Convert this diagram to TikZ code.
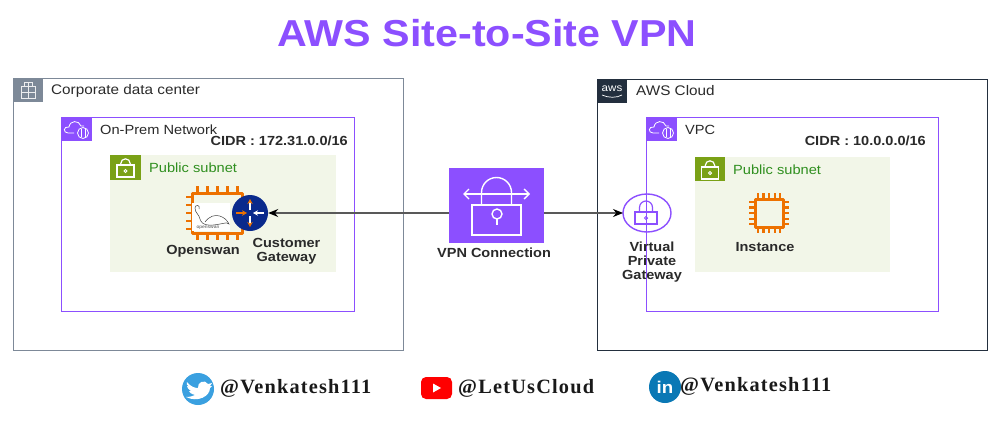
\documentclass[tikz,border=0pt]{standalone}
\usepackage{fontspec}
\setmainfont{Liberation Sans}[FakeStretch=1.1]
\newfontfamily\footfont{Liberation Serif}[LetterSpace=6]
\usetikzlibrary{arrows.meta}
\definecolor{awspurple}{HTML}{8C4FFF}
\definecolor{awsgreen}{HTML}{7AA116}
\definecolor{subnetfill}{HTML}{F2F6E8}
\definecolor{awsorange}{HTML}{ED7100}
\definecolor{awsdark}{HTML}{232F3E}
\definecolor{corpgray}{HTML}{7D8998}
\definecolor{txt}{HTML}{2A2A2A}
\definecolor{routerblue}{HTML}{0A2A8C}
\definecolor{twblue}{HTML}{3AA0E0}
\definecolor{liblue}{HTML}{0A78B5}
\definecolor{subnettxt}{HTML}{2F8F1F}
\tikzset{
  frame/.style={draw=#1,line width=1pt,fill=none},
  lab/.style={font=\fontsize{13.3}{15}\selectfont,text=txt,inner sep=0pt},
  blab/.style={font=\fontsize{13.2}{14}\selectfont\bfseries,text=txt,inner sep=0pt,align=center},
  foot/.style={font=\fontsize{20.3}{22}\selectfont\bfseries\footfont,text=black!90,inner sep=0pt,anchor=west},
  wline/.style={draw=white,line width=1.4pt,fill=none},
  link/.style={draw=black!65,line width=1.3pt},
  tip/.style={-{Stealth[length=10pt,width=8pt,black]}},
}
% lock: cx, body top, body half-width, body height, shackle half-width, shackle stem, colour
\newcommand{\lockglyph}[7]{%
  \draw[#7,line width=1.2pt] (#1-#3,#2) rectangle (#1+#3,#2+#4);
  \draw[#7,line width=1.2pt] (#1-#5,#2) -- (#1-#5,#2-#6) arc[start angle=180,end angle=360,radius=#5] -- (#1+#5,#2);
  \draw[#7,line width=.9pt] (#1,#2+#4*.5) circle (1.6);
}
\newcommand{\cloudglyph}[2]{%
  \draw[white,line width=.8pt] (#1-3,#2+3) -- (#1-9,#2+3) .. controls (#1-14,#2+3) and (#1-14,#2-4) .. (#1-8,#2-3)
    .. controls (#1-7,#2-10) and (#1+2,#2-10) .. (#1+4,#2-4) -- (#1+7,#2-4);
  \draw[white,line width=.8pt] (#1+6,#2+3) ellipse (5.5 and 5.5);
  \draw[white,line width=.6pt] (#1+4,#2-1) -- (#1+4,#2+7) (#1+8,#2-1) -- (#1+8,#2+7);
}
% chip: cx cy half-width half-height pin-length
\newcommand{\chip}[5]{%
  \draw[awsorange,line width=3pt,line join=round] (#1-#3,#2-#4) rectangle (#1+#3,#2+#4);
  \foreach \t in {-.8,-.4,0,.4,.8}{
    \draw[awsorange,line width=2.2pt] (#1+\t*#3,#2-#4) -- (#1+\t*#3,#2-#4-#5);
    \draw[awsorange,line width=2.2pt] (#1+\t*#3,#2+#4) -- (#1+\t*#3,#2+#4+#5);
    \draw[awsorange,line width=2.2pt] (#1-#3,#2+\t*#4) -- (#1-#3-#5,#2+\t*#4);
    \draw[awsorange,line width=2.2pt] (#1+#3,#2+\t*#4) -- (#1+#3+#5,#2+\t*#4);
  }
}
\begin{document}
\begin{tikzpicture}[x=1pt,y=-1pt]
\useasboundingbox[fill=white] (0,0) rectangle (1000,420);
% title
\node[font=\fontsize{37.5}{40}\selectfont\bfseries,text=awspurple,inner sep=0pt] (title) at (487,33) {AWS Site-to-Site VPN};
% left frames
\draw[frame=corpgray] (13,78) rectangle (403,350);
\fill[corpgray] (13,78) rectangle (43,102);
\draw[white!85!corpgray,line width=.7pt] (21,98) rectangle (35,86) (24,86) -- (24,82) -- (32,82) -- (32,86) (28,82) -- (28,98) (21,92) -- (35,92);
\node[lab,anchor=west,font=\fontsize{13.9}{15}\selectfont] (corp) at (51,91) {Corporate data center};
\draw[frame=awspurple] (61,117) rectangle (354,311);
\fill[awspurple] (61,117) rectangle (92,141);
\cloudglyph{77}{130}
\node[lab,anchor=west] (onprem) at (100,129.5) {On-Prem Network};
\node[blab,anchor=east] (cidrl) at (348,141) {CIDR : 172.31.0.0/16};
\fill[subnetfill] (110,155) rectangle (336,272);
\fill[awsgreen] (110,155) rectangle (141,180);
\lockglyph{125.5}{165}{8.5}{12}{4.7}{1.5}{white}
\node[lab,anchor=west,text=subnettxt] (psl) at (149,168) {Public subnet};
% openswan
\chip{217.5}{213}{25}{20}{7}
\node[fill=white,minimum width=38pt,minimum height=28pt,inner sep=0pt] (swanimg) at (211,217) {};
\draw[black!75,line width=.5pt] (199,209) .. controls (201,205) and (195,204) .. (195,208) .. controls (195,213) and (199,214) .. (200,219) .. controls (202,226) and (210,226) .. (220,224) .. controls (226,223) and (228,222) .. (229,224) .. controls (226,217) and (214,210) .. (205,222);
\node[font=\fontsize{4.5}{5}\selectfont,text=black!70,inner sep=0pt] (swantxt) at (208,227.5) {openswan};
\node[circle,fill=routerblue,minimum size=36pt,inner sep=0pt] (router) at (250,213) {};
\draw[white,line width=1.5pt,-{Stealth[length=5pt,width=5.5pt,awsorange]}] (250,210) -- (250,199);
\draw[white,line width=1.5pt,-{Stealth[length=5pt,width=5.5pt,awsorange]}] (250,216) -- (250,227);
\draw[awsorange,line width=1.5pt,-{Stealth[length=5pt,width=5.5pt]}] (236,213) -- (247,213);
\draw[white,line width=1.5pt,-{Stealth[length=5pt,width=5.5pt]}] (264,213) -- (253,213);
\node[blab] (ossl) at (203,251) {Openswan};
\node[blab] (cgw) at (286.5,251.5) {Customer\\Gateway};
% right frames
\draw[frame=awsdark] (597,79) rectangle (987,350);
\fill[awsdark] (597,79) rectangle (627,103);
\node[font=\fontsize{10.5}{11}\selectfont,text=white,inner sep=0pt] (awslogo) at (612,89) {aws};
\draw[white,line width=.7pt] (602,95) .. controls (608,98) and (617,98) .. (622,95);
\node[lab,anchor=west,font=\fontsize{13.9}{15}\selectfont] (cloud) at (636,91) {AWS Cloud};
\draw[frame=awspurple] (646,117) rectangle (938,311);
\fill[awspurple] (646,117) rectangle (677,141);
\cloudglyph{662}{130}
\node[lab,anchor=west] (vpc) at (685,130) {VPC};
\node[blab,anchor=east] (cidrr) at (926,141) {CIDR : 10.0.0.0/16};
\fill[subnetfill] (695,157) rectangle (890,272);
\fill[awsgreen] (695,157) rectangle (725,181);
\lockglyph{710}{167}{8.5}{12}{4.7}{1.5}{white}
\node[lab,anchor=west,text=subnettxt] (psr) at (733,169.5) {Public subnet};
\chip{769}{213}{14}{14}{6}
\node[blab] (inst) at (765,247) {Instance};
% VPN
\node[fill=awspurple,minimum width=95pt,minimum height=75pt,inner sep=0pt] (vpn) at (496.5,205.5) {};
\draw[wline] (472,205) rectangle (521,235);
\draw[wline] (481.5,205) -- (481.5,192.5) arc[start angle=180,end angle=360,radius=15] -- (511.5,205);
\draw[white,line width=1.4pt,{Straight Barb[length=5pt,width=10pt]}-{Straight Barb[length=5pt,width=10pt]}] (463,194) -- (530,194);
\draw[wline] (497,214) circle (5);
\draw[wline] (497,219) -- (497,225);
\node[blab] (vpnl) at (494,253) {VPN Connection};
% VGW
\draw[awspurple,line width=1.4pt] (647,213) ellipse (24 and 19);
\coordinate (vgwW) at (623,213);
\lockglyph{646}{212}{11}{12}{6.5}{4.5}{awspurple}
\node[blab] (vgwl) at (652,262) {Virtual\\Private\\Gateway};
% connectors
\draw[link,tip] (vpn.west |- router.east) -- (router.east);
\draw[link,tip] (vpn.east |- vgwW) -- (vgwW);
% footer
\node[circle,fill=twblue,minimum size=32pt,inner sep=0pt] (tw) at (198,389) {};
\fill[white] (187,382) .. controls (191,387) and (195,388) .. (198,388) .. controls (197,382) and (205,379) .. (208,384) -- (212,383) -- (210,386) -- (212,386) -- (210,388) .. controls (210,396) and (198,403) .. (186,397) .. controls (190,397) and (193,396) .. (195,395) .. controls (191,394) and (189,392) .. (189,391) -- (191,391) .. controls (188,389) and (187,387) .. (187,386) -- (189,386.5) .. controls (187,385) and (186,384) .. (187,382) -- cycle;
\node[foot] (twt) at (220,388.5) {@Venkatesh111};
\node[fill=red,rounded corners=5pt,minimum width=31pt,minimum height=22pt,inner sep=0pt] (yt) at (436.5,388) {};
\fill[white] (433,383.5) -- (441,388) -- (433,392.5) -- cycle;
\node[foot] (ytt) at (458,388.5) {@LetUsCloud};
\node[circle,fill=liblue,minimum size=32pt,inner sep=0pt,text=white,font=\fontsize{17}{17}\selectfont\bfseries] (li) at (665,387) {in};
\node[foot] (lit) at (680,386.5) {@Venkatesh111};
\end{tikzpicture}
\end{document}
